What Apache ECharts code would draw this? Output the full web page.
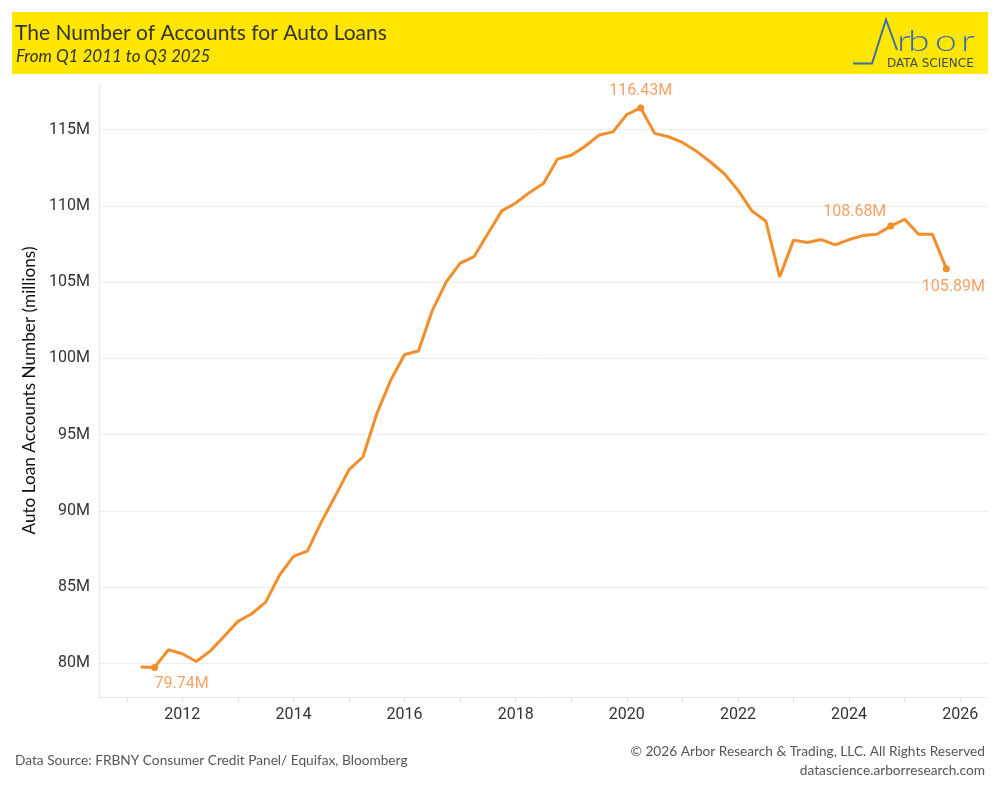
<!DOCTYPE html>
<html>
<head>
<meta charset="utf-8">
<script src="https://cdn.jsdelivr.net/npm/echarts@6/dist/echarts.min.js"></script>
<style>
html,body{margin:0;padding:0;background:#fff;}
#chart{width:1000px;height:800px;}
</style>
</head>
<body>
<div id="chart"></div>
<script>
// ---- Data (millions of auto loan accounts, quarterly Q1 2011 – Q3 2025) ----
const quarters = [
  'Q1 2011','Q2 2011','Q3 2011','Q4 2011',
  'Q1 2012','Q2 2012','Q3 2012','Q4 2012',
  'Q1 2013','Q2 2013','Q3 2013','Q4 2013',
  'Q1 2014','Q2 2014','Q3 2014','Q4 2014',
  'Q1 2015','Q2 2015','Q3 2015','Q4 2015',
  'Q1 2016','Q2 2016','Q3 2016','Q4 2016',
  'Q1 2017','Q2 2017','Q3 2017','Q4 2017',
  'Q1 2018','Q2 2018','Q3 2018','Q4 2018',
  'Q1 2019','Q2 2019','Q3 2019','Q4 2019',
  'Q1 2020','Q2 2020','Q3 2020','Q4 2020',
  'Q1 2021','Q2 2021','Q3 2021','Q4 2021',
  'Q1 2022','Q2 2022','Q3 2022','Q4 2022',
  'Q1 2023','Q2 2023','Q3 2023','Q4 2023',
  'Q1 2024','Q2 2024','Q3 2024','Q4 2024',
  'Q1 2025','Q2 2025','Q3 2025'
];
const accounts = [
  79.76, 79.74, 80.90, 80.64,
  80.13, 80.81, 81.77, 82.76,
  83.26, 84.02, 85.80, 87.02,
  87.37, 89.27, 90.96, 92.71,
  93.54, 96.38, 98.57, 100.26,
  100.49, 103.16, 105.02, 106.25,
  106.68, 108.20, 109.68, 110.20,
  110.89, 111.48, 113.07, 113.33,
  113.92, 114.65, 114.86, 116.00,
  116.43, 114.76, 114.54, 114.17,
  113.60, 112.90, 112.13, 111.04,
  109.68, 109.02, 105.35, 107.76,
  107.60, 107.80, 107.45, 107.80,
  108.06, 108.15, 108.68, 109.13,
  108.15, 108.15, 105.89
];
// annotated points
const labeledQuarters = ['Q2 2011', 'Q1 2020', 'Q3 2024', 'Q3 2025'];
// tick labels
const xLabelYears = [2012, 2014, 2016, 2018, 2020, 2022, 2024, 2026];
const xTickYears = [2011,2012,2013,2014,2015,2016,2017,2018,2019,2020,2021,2022,2023,2024,2025,2026];
const yTicks = [80, 85, 90, 95, 100, 105, 110, 115];

// ---- Build ----
function quarterToX(q) {
  const n = parseInt(q.charAt(1), 10);
  const y = parseInt(q.slice(3), 10);
  return y + n * 0.25; // quarter end
}
const labelStyles = {
  'Q2 2011': { position: 'bottom', offset: [27, 0] },
  'Q1 2020': { position: 'top', offset: [0, 0] },
  'Q3 2024': { position: 'top', offset: [-36, 2] },
  'Q3 2025': { position: 'bottom', offset: [7, 2] }
};
const seriesData = quarters.map((q, i) => {
  const item = { value: [quarterToX(q), accounts[i]] };
  if (labeledQuarters.indexOf(q) >= 0) {
    item.symbolSize = 7;
    item.label = Object.assign({
      show: true,
      formatter: accounts[i].toFixed(2) + 'M',
      color: '#F5A266',
      fontFamily: 'Roboto',
      fontSize: 16
    }, labelStyles[q]);
  } else {
    item.symbolSize = 0;
  }
  return item;
});

const logoFont = '300 29px Lato';
function logoLetter(ch, x) {
  return { type: 'text', x: x, y: 56, scaleX: 1.35, style: { text: ch, fill: '#3D6DAE', font: logoFont, textVerticalAlign: 'bottom' } };
}
const chart = echarts.init(document.getElementById('chart'), null, { renderer: 'canvas' });
const option = {
  backgroundColor: '#ffffff',
  animation: false,
  grid: { left: 99, right: 12, top: 84, bottom: 103 },
  xAxis: {
    type: 'value',
    min: 2010.5,
    max: 2026.5,
    axisLine: { show: true, lineStyle: { color: '#e8e8e8', width: 1 } },
    axisTick: { show: true, customValues: xTickYears, length: 5, lineStyle: { color: '#e0e0e0' } },
    axisLabel: {
      customValues: xLabelYears,
      formatter: v => String(v),
      color: '#333333',
      fontFamily: 'Roboto',
      fontSize: 16,
      margin: 10
    },
    splitLine: { show: false }
  },
  yAxis: {
    type: 'value',
    min: 77.8,
    max: 118,
    name: 'Auto Loan Accounts Number (millions)',
    nameLocation: 'middle',
    nameGap: 60,
    nameTextStyle: { color: '#111111', fontFamily: 'Lato', fontSize: 17.2 },
    axisLine: { show: true, lineStyle: { color: '#e8e8e8', width: 1 } },
    axisTick: { show: false },
    axisLabel: {
      customValues: yTicks,
      formatter: v => v + 'M',
      color: '#333333',
      fontFamily: 'Roboto',
      fontSize: 16,
      margin: 9
    },
    splitLine: { show: false }
  },
  series: [{
    type: 'line',
    data: seriesData,
    symbol: 'circle',
    showSymbol: true,
    lineStyle: { color: '#F28E2B', width: 3 },
    itemStyle: { color: '#F28E2B' },
    emphasis: { disabled: true },
    z: 3,
    markLine: {
      silent: true,
      symbol: 'none',
      z: 1,
      label: { show: false },
      lineStyle: { color: '#ededed', width: 1, type: 'solid' },
      data: yTicks.map(v => ({ yAxis: v }))
    }
  }],
  graphic: [
    { type: 'rect', shape: { x: 12, y: 12, width: 976, height: 62 }, style: { fill: '#FFE600' }, z: 0 },
    { type: 'text', x: 15, y: 33, style: { text: 'The Number of Accounts for Auto Loans', fill: '#333333', font: '21px Lato', textVerticalAlign: 'middle' } },
    { type: 'text', x: 16, y: 57, style: { text: 'From Q1 2011 to Q3 2025', fill: '#333333', font: 'italic 17px Lato', textVerticalAlign: 'middle' } },
    { type: 'polyline', shape: { points: [[853, 63.5], [872, 63.5], [886, 19.5], [897, 50]] }, style: { stroke: '#3D6DAE', lineWidth: 2, fill: null } },
    logoLetter('r', 897),
    logoLetter('b', 908),
    logoLetter('o', 935),
    logoLetter('r', 961),
    { type: 'text', x: 887, y: 64, style: { text: 'DATA SCIENCE', fill: '#3b4a5c', font: '12px "DejaVu Sans"', textVerticalAlign: 'middle' } },
    { type: 'text', x: 15, y: 761, style: { text: 'Data Source: FRBNY Consumer Credit Panel/ Equifax, Bloomberg', fill: '#555555', font: '13.7px Lato', textVerticalAlign: 'middle' } },
    { type: 'text', x: 985, y: 752, style: { text: '\u00A9 2026 Arbor Research & Trading, LLC. All Rights Reserved', fill: '#555555', font: '13.7px Lato', textAlign: 'right', textVerticalAlign: 'middle' } },
    { type: 'text', x: 985, y: 771, style: { text: 'datascience.arborresearch.com', fill: '#555555', font: '13.7px Lato', textAlign: 'right', textVerticalAlign: 'middle' } }
  ]
};
chart.setOption(option);
</script>
</body>
</html>
